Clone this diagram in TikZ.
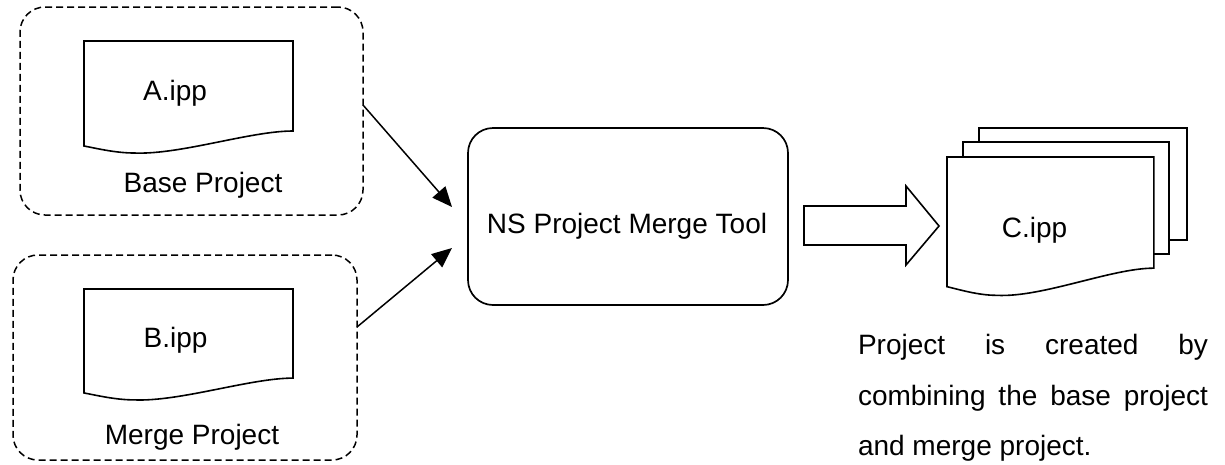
\documentclass[tikz,border=0pt]{standalone}
\usepackage{fontspec}
\setmainfont{Liberation Sans}
\usetikzlibrary{arrows.meta}
\begin{document}
\begin{tikzpicture}[x=1pt,y=-1pt,
  every node/.style={font=\fontsize{28}{33}\selectfont, inner sep=0pt, outer sep=0pt},
  grp/.style={draw, dash pattern=on 7pt off 4pt, rounded corners=25pt, line width=1.5pt},
  toolbox/.style={draw, rounded corners=25pt, line width=1.7pt},
  shapeline/.style={line width=1.6pt, fill=white},
  arr/.style={line width=1.5pt, -{Triangle[length=20pt,width=17pt]}},
  docpic/.pic={\draw[shapeline] (0,0) -- (209,0) -- (209,90) .. controls (166,90) and (96,114) .. (50,112) .. controls (31,112) and (11,107) .. (0,105) -- cycle;}
]
\useasboundingbox (0,0) rectangle (1225,464);

% groups
\node[grp, minimum width=343pt, minimum height=208pt] (base) at (191.5,111) {};
\node[grp, minimum width=344pt, minimum height=205pt] (merge) at (185,357.5) {};

% documents A and B
\pic at (84,41) {docpic};
\pic[yscale=0.99] at (84,289) {docpic};
\node[anchor=base] (ta) at (175,100) {A.ipp};
\node[anchor=base] (lbase) at (203,192) {Base Project};
\node[anchor=base] (tb) at (175.5,347) {B.ipp};
\node[anchor=base] (lmerge) at (192,444) {Merge Project};

% tool
\node[toolbox, minimum width=320pt, minimum height=177pt] (tool) at (628,216.5) {};
\node[anchor=base] (ttool) at (627,233) {NS Project Merge Tool};

% arrows
\coordinate (s1) at (364,105);
\coordinate (e1) at (452,207);
\coordinate (s2) at (358,327);
\coordinate (e2) at (452,248);
\draw[arr] (base.east |- s1) -- (e1);
\draw[arr] (merge.east |- s2) -- (e2);

% block arrow
\draw[line width=1.6pt] (804,206) -- (906,206) -- (906,186) -- (939,226) -- (906,265) -- (906,245) -- (804,245) -- cycle;

% stacked output documents
\draw[shapeline] (979,128) rectangle (1187,240);
\draw[shapeline] (963,142) rectangle (1169,254);
\pic[xscale=0.99, yscale=1.235] at (947,157) {docpic};
\node[anchor=base] (tc) at (1034.5,237) {C.ipp};

% description
\node[anchor=base west] (d1) at (858,354) {\makebox[350pt][s]{Project is created by}};
\node[anchor=base west] (d2) at (858,405) {\makebox[350pt][s]{combining the base project}};
\node[anchor=base west] (d3) at (858,455) {and merge project.};
\end{tikzpicture}
\end{document}
